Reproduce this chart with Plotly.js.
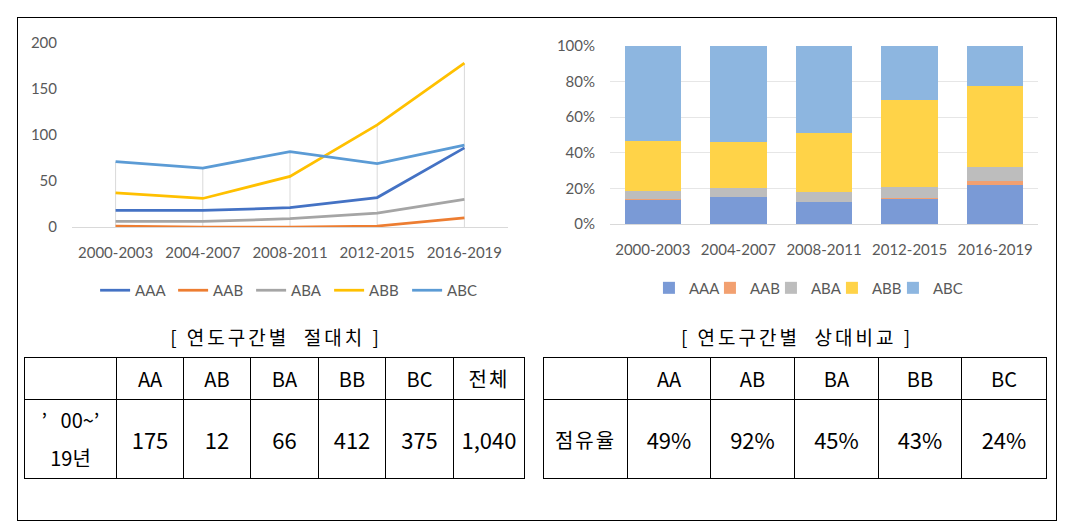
<!DOCTYPE html>
<html><head><meta charset="utf-8">
<script src="https://cdn.plot.ly/plotly-3.0.1.min.js"></script>
<style>
body{margin:0;background:#fff;width:1072px;height:532px;overflow:hidden;position:relative;font-family:"Noto Sans CJK KR",sans-serif;}
.chart{position:absolute;left:0;top:0;width:1072px;height:532px;}
#frame{position:absolute;left:17px;top:17px;width:1040px;height:504px;box-sizing:border-box;border:1px solid #000;}
.ttl{position:absolute;top:322px;width:320px;height:30px;line-height:30px;font-size:19px;letter-spacing:3px;white-space:pre;color:#000;text-align:center;}
table{position:absolute;border-collapse:collapse;table-layout:fixed;}
td{border:1px solid #000;text-align:center;vertical-align:middle;padding:0;color:#000;font-family:"Noto Sans CJK KR",sans-serif;}
td.h{font-size:20px;}
td.v{font-size:22px;}
td.k{font-size:20px;letter-spacing:2px;}
td.yr{font-size:20px;line-height:38px;}
</style>
</head>
<body>
<div id="frame"></div>
<div id="lineChart" class="chart"></div>
<div id="barChart" class="chart"></div>
<div class="ttl" style="left:116px;">[ 연도구간별  절대치 ]</div>
<div class="ttl" style="left:637px;">[ 연도구간별  상대비교 ]</div>
<table id="absTable" style="left:24px;top:357px;width:500px;"></table>
<table id="relTable" style="left:543px;top:357px;width:503px;"></table>
<script>
const categories = ['2000-2003','2004-2007','2008-2011','2012-2015','2016-2019'];
const seriesNames = ['AAA','AAB','ABA','ABB','ABC'];
const AAA = [18, 18, 21, 32, 86];
const AAB = [1, 0, 0, 1, 10];
const ABA = [6, 6, 9, 15, 30];
const ABB = [37, 31, 55, 111, 178];
const ABC = [71, 64, 82, 69, 89];
const lineColors = ['#4472C4','#ED7D31','#A5A5A5','#FFC000','#5B9BD5'];
const barColors = ['#7A9AD6','#F2A070','#BDBDBD','#FFD348','#8DB6E0'];
const yTicksAbs = [0, 50, 100, 150, 200];
const yTicksPct = [0, 20, 40, 60, 80, 100];
const yTickTextPct = ['0%','20%','40%','60%','80%','100%'];

const absRowLabel = '’\u00a0\u00a0\u00a000~’<br>19년';
const absHeaders = ['AA','AB','BA','BB','BC','전체'];
const absValues = ['175','12','66','412','375','1,040'];
const relRowLabel = '점유율';
const relHeaders = ['AA','AB','BA','BB','BC'];
const relValues = ['49%','92%','45%','43%','24%'];

const allSeries = [AAA, AAB, ABA, ABB, ABC];

// ---------- line chart ----------
const lineTraces = allSeries.map((vals, i) => ({
  type:'scatter', mode:'lines', name:seriesNames[i], x:categories, y:vals,
  line:{color:lineColors[i], width:2.75}, hoverinfo:'skip'
}));
const dropShapes = categories.map((c, j) => ({
  type:'line', xref:'x', yref:'y', layer:'below',
  x0:c, x1:c, y0:0, y1:Math.max(...allSeries.map(s => s[j])),
  line:{color:'#d9d9d9', width:1}
}));
const lineLayout = {
  width:1072, height:532,
  margin:{l:71.7, r:564, t:43.3, b:305.3, pad:0},
  paper_bgcolor:'rgba(0,0,0,0)', plot_bgcolor:'rgba(0,0,0,0)',
  font:{family:'Lato, "Open Sans", sans-serif', size:15, color:'#595959'},
  xaxis:{type:'category', range:[-0.5, 4.5], showgrid:false, zeroline:false, showline:true,
         linecolor:'#d9d9d9', linewidth:1, ticks:'', ticklabelstandoff:12, fixedrange:true},
  yaxis:{range:[0, 200], tickvals:yTicksAbs, showgrid:false, zeroline:false, showline:false,
         ticks:'', ticklabelstandoff:14, fixedrange:true},
  showlegend:true,
  legend:{orientation:'h', x:0.053, xanchor:'left', y:-0.345, yanchor:'middle',
          font:{size:15, color:'#595959'}, entrywidth:33, entrywidthmode:'pixels',
          itemwidth:30, bgcolor:'rgba(0,0,0,0)', traceorder:'normal'},
  shapes:dropShapes
};
Plotly.newPlot('lineChart', lineTraces, lineLayout, {displayModeBar:false, staticPlot:true});

// ---------- 100% stacked bar chart ----------
const barTraces = allSeries.map((vals, i) => ({
  type:'bar', name:seriesNames[i], x:categories, y:vals,
  marker:{color:barColors[i], line:{width:0}}, hoverinfo:'skip'
}));
const barLayout = {
  width:1072, height:532,
  margin:{l:610, r:34, t:45.7, b:308, pad:0},
  paper_bgcolor:'rgba(0,0,0,0)', plot_bgcolor:'rgba(0,0,0,0)',
  font:{family:'Lato, "Open Sans", sans-serif', size:15, color:'#595959'},
  barmode:'stack', barnorm:'percent', bargap:0.34,
  xaxis:{type:'category', showgrid:false, zeroline:false, showline:true,
         linecolor:'#d9d9d9', linewidth:1, ticks:'', ticklabelstandoff:12, fixedrange:true},
  yaxis:{range:[0, 100], tickmode:'array', tickvals:yTicksPct, ticktext:yTickTextPct,
         showgrid:true, gridcolor:'#e6e6e6',
         zeroline:false, showline:false, ticks:'', ticklabelstandoff:14, fixedrange:true},
  showlegend:true,
  legend:{orientation:'h', x:0.091, xanchor:'left', y:-0.36, yanchor:'middle',
          font:{size:15, color:'#595959'}, entrywidth:16, entrywidthmode:'pixels',
          itemwidth:30, bgcolor:'rgba(0,0,0,0)', traceorder:'normal'}
};
Plotly.newPlot('barChart', barTraces, barLayout, {displayModeBar:false, staticPlot:true}).then(gd => {
  // let the last legend label overflow the compact legend box instead of being clipped
  gd.querySelectorAll('.legend [clip-path]').forEach(el => el.removeAttribute('clip-path'));
});

// ---------- tables ----------
function buildTable(id, colWidths, rowLabel, headers, values, labelClass) {
  const t = document.getElementById(id);
  let html = '<colgroup>' + colWidths.map(w => `<col style="width:${w}px">`).join('') + '</colgroup>';
  html += '<tr style="height:42px"><td></td>' + headers.map(h => `<td class="${/[가-힣]/.test(h)?'k':'h'}">${h}</td>`).join('') + '</tr>';
  html += `<tr style="height:79px"><td class="${labelClass}">${rowLabel}</td>` + values.map(v => `<td class="v">${v}</td>`).join('') + '</tr>';
  t.innerHTML = html;
}
buildTable('absTable', [92, 67, 67, 68, 67, 68, 71], absRowLabel, absHeaders, absValues, 'yr');
buildTable('relTable', [84, 83, 84, 84, 83, 85], relRowLabel, relHeaders, relValues, 'k');
</script>
</body></html>
